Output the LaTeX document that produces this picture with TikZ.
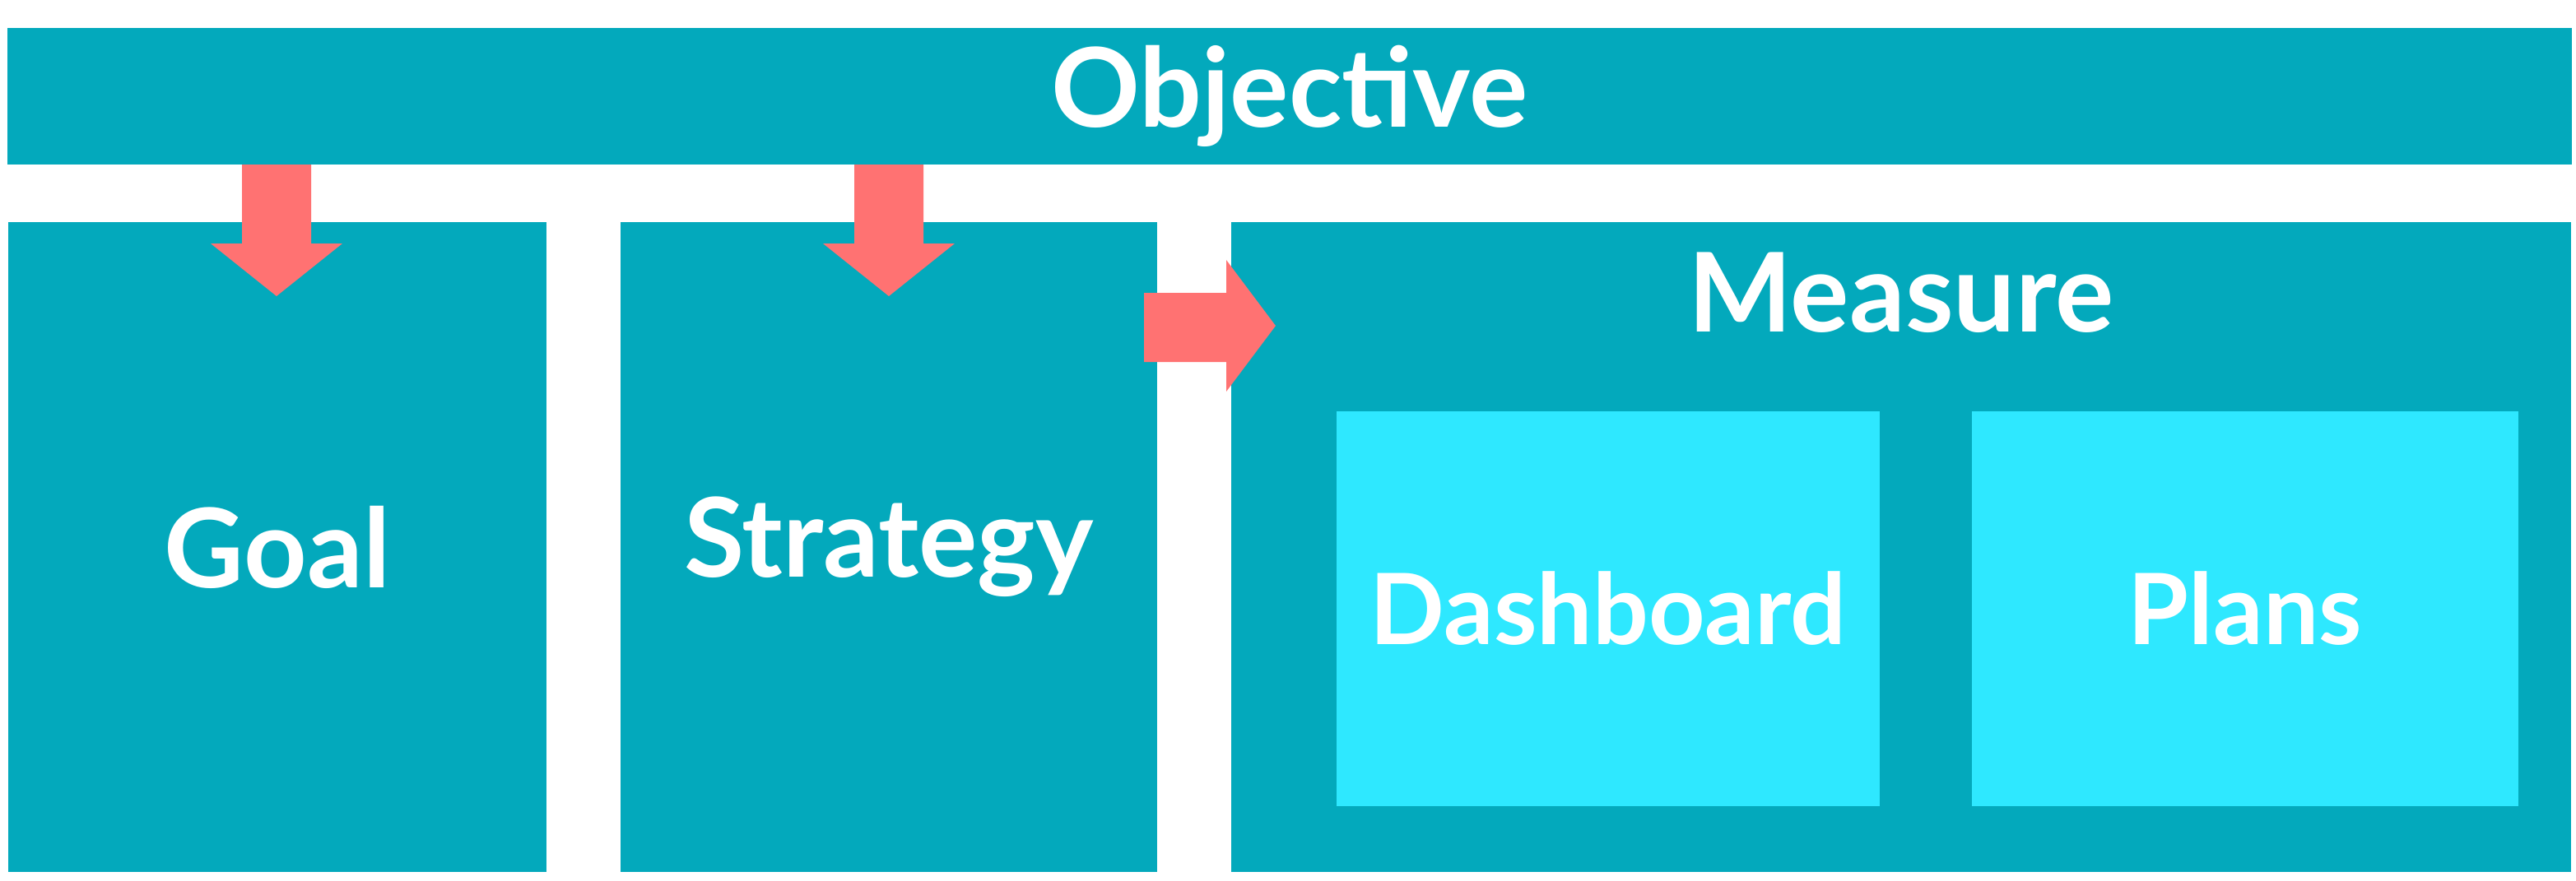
\documentclass[tikz,border=0pt]{standalone}
\usepackage{fontspec}
\setmainfont{Lato}
\definecolor{teal1}{HTML}{03A9BC}
\definecolor{cyan1}{HTML}{2EE8FF}
\definecolor{red1}{HTML}{FF7272}
\begin{document}
\begin{tikzpicture}[x=0.01cm,y=-0.01cm,
   font=\bfseries,
   box/.style={fill=teal1,text=white,inner sep=0pt,font=\fontsize{19}{22}\bfseries\selectfont},
   sub/.style={fill=cyan1,text=white,inner sep=0pt,font=\fontsize{17}{20}\bfseries\selectfont},
   arr/.style={fill=red1}]
\useasboundingbox (0,0) rectangle (1565,535);
\node[box,minimum width=1557\pgflinewidth*0+15.57cm,minimum height=0.83cm] (objective) at (783.5,58.5) {Objective};
\node[box,minimum width=3.27cm,minimum height=3.95cm] (goal) at (168.5,332.5) {Goal};
\node[box,minimum width=3.26cm,minimum height=3.95cm] (strategy) at (540,332.5) {Strategy};
\node[box,minimum width=8.14cm,minimum height=3.95cm] (measure) at (1155,332.5) {};
\node[box] (measuretxt) at (1155,178) {Measure};
\node[sub,minimum width=3.30cm,minimum height=2.40cm] (dashboard) at (977,370) {Dashboard};
\node[sub,minimum width=3.32cm,minimum height=2.40cm] (plans) at (1364,370) {Plans};
% arrows
\foreach \c in {168,540}
  \fill[arr] (\c-21,100) -- (\c+21,100) -- (\c+21,148) -- (\c+40,148) -- (\c,180)
     -- (\c-40,148) -- (\c-21,148) -- cycle;
\fill[arr] (695,178) -- (745,178) -- (745,158) -- (775,198) -- (745,238) -- (745,220)
   -- (695,220) -- cycle;
\end{tikzpicture}
\end{document}
